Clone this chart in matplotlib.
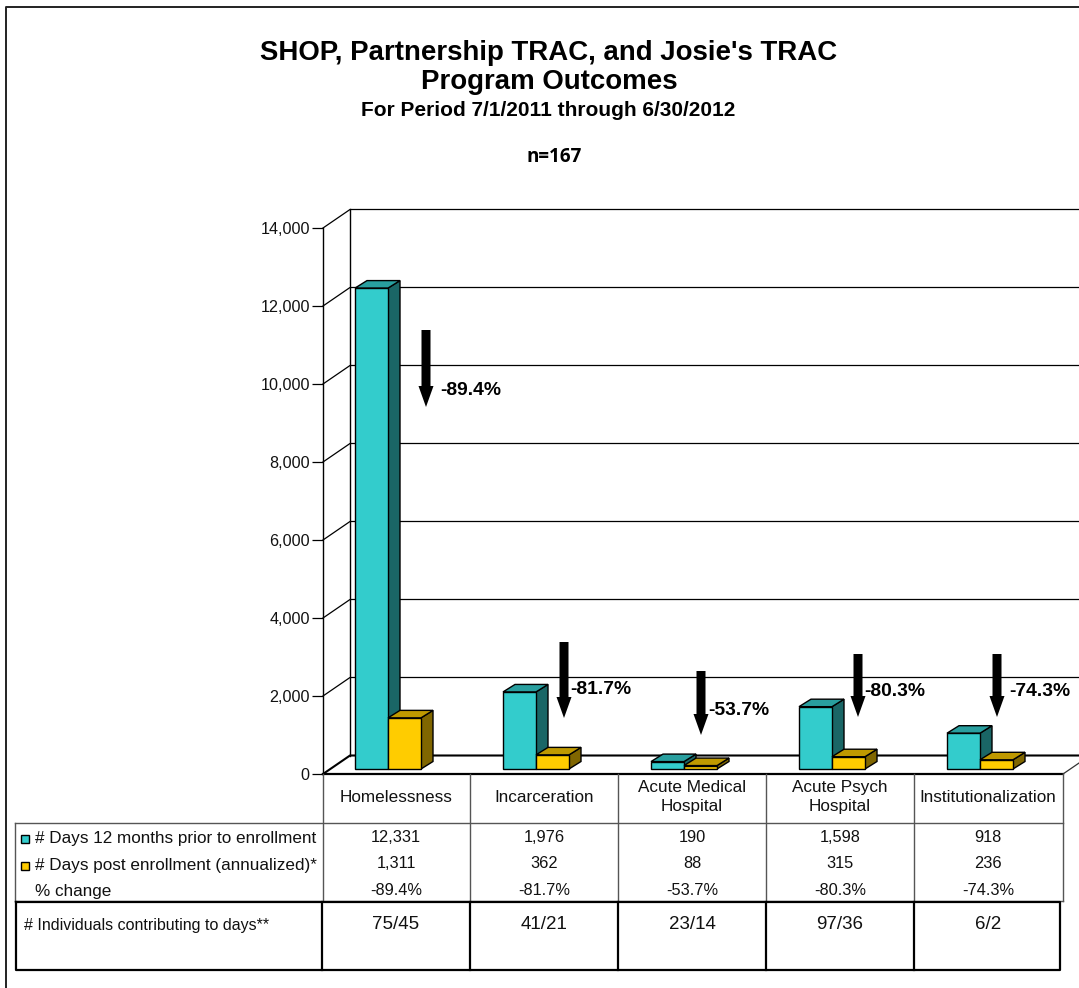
#import libraries
import matplotlib
matplotlib.use("Agg")
import matplotlib.pyplot as plt
from matplotlib.patches import Polygon

plt.rcParams['font.family'] = ['Liberation Sans', 'DejaVu Sans']

#chart values
categories = ['Homelessness', 'Incarceration', 'Acute Medical\nHospital', 'Acute Psych\nHospital', 'Institutionalization']
days_prior = [12331, 1976, 190, 1598, 918]
days_post = [1311, 362, 88, 315, 236]
pct_change = ['-89.4%', '-81.7%', '-53.7%', '-80.3%', '-74.3%']
individuals = ['75/45', '41/21', '23/14', '97/36', '6/2']
y_ticks = [0, 2000, 4000, 6000, 8000, 10000, 12000, 14000]

#figure is laid out in pixels
W, H = 1079, 988
fig = plt.figure(figsize=(W / 100, H / 100), dpi=100, facecolor='white')

X0, X1, Y0, Y14 = 323, 1063, 774, 228
ax = fig.add_axes([X0 / W, 1 - Y0 / H, (X1 - X0) / W, (Y0 - Y14) / H], facecolor='none')
ax.set_xlim(0, 5)
ax.set_ylim(0, 14000)
px_x = 5 / (X1 - X0)
px_y = 14000 / (Y0 - Y14)

ax.set_xticks([])
ax.set_yticks(y_ticks)
ax.set_yticklabels([f'{t:,}' for t in y_ticks], fontsize=11.6, color='#111111')
ax.tick_params(axis='y', length=8, width=0.9, pad=1.5)
for s in ['top', 'right', 'bottom']:
    ax.spines[s].set_visible(False)
ax.spines['left'].set_linewidth(1)

#wall and floor depth
wall_dx = 27 * px_x
wall_dy = 18.5 * px_y
xmax = 5 + 30 * px_x
for t in y_ticks:
    lw = 1.5 if t == 0 else 0.9
    ax.plot([0, wall_dx, xmax], [t, t + wall_dy, t + wall_dy], color='black', lw=lw, clip_on=False, zorder=1)
ax.plot([wall_dx, wall_dx], [wall_dy, 14000 + wall_dy], color='black', lw=1, clip_on=False, zorder=1)
ax.plot([0, 5], [0, 0], color='black', lw=1.6, clip_on=False, zorder=2)
ax.plot([5, 5 + wall_dx], [0, wall_dy], color='#333333', lw=0.9, clip_on=False, zorder=2)

#3d looking bars
bar_w = 33 * px_x
bar_dx = 12 * px_x
bar_dy = 7.5 * px_y
lift = 5 * px_y


def bar3d(x, v, front, side, top):
    y0, y1 = lift, lift + v
    ax.add_patch(Polygon([(x + bar_w, y0), (x + bar_w + bar_dx, y0 + bar_dy), (x + bar_w + bar_dx, y1 + bar_dy), (x + bar_w, y1)],
                         fc=side, ec='black', lw=1, clip_on=False, zorder=3))
    ax.add_patch(Polygon([(x, y1), (x + bar_dx, y1 + bar_dy), (x + bar_w + bar_dx, y1 + bar_dy), (x + bar_w, y1)],
                         fc=top, ec='black', lw=1, clip_on=False, zorder=3))
    ax.add_patch(Polygon([(x, y0), (x + bar_w, y0), (x + bar_w, y1), (x, y1)],
                         fc=front, ec='black', lw=1, clip_on=False, zorder=3))


for i in range(len(categories)):
    x = i + 32 * px_x
    bar3d(x, days_prior[i], '#33CCCC', '#1A6666', '#299F9F')
    bar3d(x + bar_w, days_post[i], '#FFCC00', '#806600', '#BF9900')

#overlay in pixel coords for titles, arrows and the data table
ov = fig.add_axes([0, 0, 1, 1], facecolor='none')
ov.set_xlim(0, W)
ov.set_ylim(H, 0)
ov.axis('off')

#outer border
ov.plot([6, 6, W], [H, 7, 7], color='#222222', lw=1.4)

ov.text(549, 53, "SHOP, Partnership TRAC, and Josie's TRAC", ha='center', va='center', fontsize=19.9, fontweight='bold')
ov.text(549, 82, 'Program Outcomes', ha='center', va='center', fontsize=19.9, fontweight='bold')
ov.text(548, 110, 'For Period 7/1/2011 through 6/30/2012', ha='center', va='center', fontsize=15, fontweight='bold')
ov.text(554, 157, 'n=167', ha='center', va='center', fontsize=13.6, fontweight='bold', family=['Open Sans', 'DejaVu Sans'])

#arrows with percent labels
arrow_x = [426, 564, 701, 858, 997]
arrow_top = [330, 642, 671, 654, 654]
arrow_tip = [407, 718, 735, 717, 717]
label_x = [440, 570, 708, 864, 1009]
label_y = [390, 689, 710, 691, 691]
for i in range(len(pct_change)):
    ov.fill([arrow_x[i] - 4.5, arrow_x[i] + 4.5, arrow_x[i] + 4.5, arrow_x[i] + 7.5, arrow_x[i], arrow_x[i] - 7.5, arrow_x[i] - 4.5],
            [arrow_top[i], arrow_top[i], arrow_tip[i] - 21, arrow_tip[i] - 21, arrow_tip[i], arrow_tip[i] - 21, arrow_tip[i] - 21],
            color='black', lw=0, zorder=5)
    ov.text(label_x[i], label_y[i], pct_change[i], ha='left', va='center', fontsize=13.9, fontweight='bold', zorder=6)

#data table
cols = [322 + 148 * i for i in range(6)]
grey = '#555555'
ov.plot([X0, X0], [774, 901], color=grey, lw=1)
for c in cols[1:]:
    ov.plot([c + 1 if c == cols[-1] else c, c + 1 if c == cols[-1] else c], [774, 901], color=grey, lw=1)
ov.plot([15, cols[-1] + 1], [823, 823], color=grey, lw=1)
ov.plot([15, 15], [823, 901], color=grey, lw=1)
ov.plot([15, cols[-1] + 1], [901, 901], color=grey, lw=1)

for i in range(5):
    xc = (cols[i] + cols[i + 1]) / 2
    ov.text(xc, 797, categories[i], ha='center', va='center', fontsize=12.3, linespacing=1.3, color='#111111')
    ov.text(xc, 837, f'{days_prior[i]:,}', ha='center', va='center', fontsize=11.8, color='#111111')
    ov.text(xc, 863, f'{days_post[i]:,}', ha='center', va='center', fontsize=11.8, color='#111111')
    ov.text(xc, 890, pct_change[i], ha='center', va='center', fontsize=11.8, color='#111111')
    ov.text(xc, 924, individuals[i], ha='center', va='center', fontsize=13.5, color='#111111')

#legend rows
ov.add_patch(plt.Rectangle((20.5, 835), 8, 8, fc='#33CCCC', ec='black', lw=1))
ov.add_patch(plt.Rectangle((20.5, 862), 8, 8, fc='#FFCC00', ec='black', lw=1))
ov.text(35, 838, '# Days 12 months prior to enrollment', va='center', fontsize=12.3, color='#111111')
ov.text(35, 865, '# Days post enrollment (annualized)*', va='center', fontsize=12.3, color='#111111')
ov.text(35, 891, '% change', va='center', fontsize=12.3, color='#111111')
ov.text(24, 925, '# Individuals contributing to days**', va='center', fontsize=11.5, color='#111111')

#thick box at the bottom
ov.plot([16, 1060, 1060, 16, 16], [902, 902, 970, 970, 902], color='black', lw=1.6)
for c in [322, 470, 618, 766, 914]:
    ov.plot([c, c], [902, 970], color='black', lw=1.6)

fig.savefig('out.png', dpi=100)
